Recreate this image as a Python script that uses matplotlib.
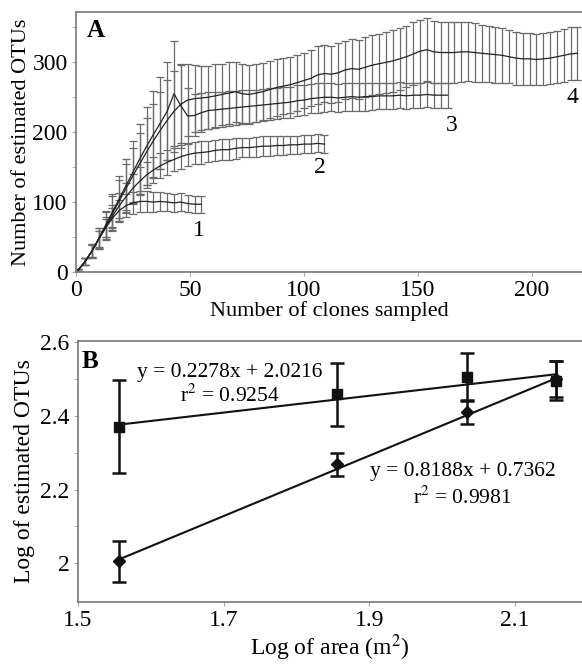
import numpy as np
import matplotlib.pyplot as plt

plt.rcParams['font.family'] = ['Liberation Serif', 'DejaVu Serif']
plt.rcParams['mathtext.fontset'] = 'stix'

# ---- panel A: rarefaction curves (sampled every 3 clones, starting at 1) ----
curve1 = [3, 15, 30, 47, 63, 77, 88, 95, 99, 101, 101, 100, 101, 100, 99, 100, 98, 97, 97]
err1 = [1, 5, 9, 11, 13, 14, 15, 16, 16, 15, 15, 14, 14, 13, 13, 13, 12, 12, 12]

curve2 = [3, 15, 30, 47, 64, 80, 95, 108, 120, 130, 139, 146, 152, 157, 161, 165, 168, 170, 171,
          172, 174, 175, 175, 177, 178, 178, 179, 180, 180, 181, 181, 182, 182, 183, 183, 184, 183]
err2 = [1, 5, 9, 12, 14, 16, 18, 19, 20, 20, 19, 19, 18, 18, 17, 17, 16, 16, 16,
        15, 15, 15, 15, 15, 14, 14, 14, 14, 14, 14, 14, 13, 13, 13, 13, 13, 13]

curve3 = [3, 15, 30, 48, 67, 86, 105, 124, 143, 162, 180, 197, 213, 230, 255, 238, 223, 224, 228,
          231, 232, 233, 234, 235, 236, 237, 238, 239, 240, 241, 242, 243, 245, 246, 248, 249, 250,
          250, 249, 250, 251, 250, 251, 251, 252, 252, 252, 253, 252, 253, 253, 254, 253, 253, 253]
err3 = [1, 5, 10, 15, 20, 26, 32, 38, 44, 50, 56, 62, 66, 70, 75, 60, 40, 30, 28,
        27, 26, 25, 25, 24, 24, 24, 23, 23, 23, 22, 22, 22, 22, 21, 21, 21, 21,
        20, 20, 20, 20, 20, 20, 19, 19, 19, 19, 19, 19, 18, 18, 18, 18, 18, 18]

curve4 = [3, 15, 30, 48, 66, 84, 102, 120, 138, 155, 172, 188, 203, 217, 230, 240, 246, 248, 249,
          250, 252, 254, 256, 258, 255, 254, 256, 258, 261, 264, 266, 268, 271, 274, 277, 282, 284,
          283, 285, 289, 291, 290, 293, 296, 298, 300, 302, 305, 308, 312, 316, 318, 315, 314, 314,
          314, 315, 315, 314, 313, 312, 311, 310, 308, 306, 305, 305, 304, 305, 306, 308, 310, 312, 313]
err4 = [1, 5, 10, 15, 20, 25, 30, 35, 40, 44, 48, 52, 55, 57, 58, 56, 52, 48, 46,
        45, 45, 44, 44, 43, 42, 42, 42, 41, 41, 41, 40, 40, 40, 40, 40, 41, 41,
        41, 42, 42, 42, 42, 43, 43, 43, 44, 44, 44, 44, 45, 45, 45, 44, 44, 43,
        43, 43, 42, 42, 41, 40, 40, 39, 38, 38, 37, 37, 37, 37, 37, 37, 38, 38, 38]

curve_labels = ['1', '2', '3', '4']
label_pos = [(54, 60), (107, 149), (165, 210), (218, 250)]

# ---- panel B: log area vs log OTUs ----
log_area = [1.556, 1.856, 2.034, 2.156]
sq_y = [2.371, 2.458, 2.505, 2.495]
sq_err = [0.125, 0.086, 0.065, 0.053]
di_y = [2.005, 2.268, 2.410, 2.500]
di_err = [0.056, 0.030, 0.032, 0.050]
fit_sq = (0.2278, 2.0216)
fit_di = (0.8188, 0.7362)

fig = plt.figure(figsize=(5.82, 6.66), dpi=100)
axA = fig.add_axes([76/582, 1 - 272/666, 1 - 76/582, 260/666])
axB = fig.add_axes([78/582, 1 - 602/666, 1 - 78/582, 261/666])

spine_col = '#777777'
for ax in (axA, axB):
    ax.spines['right'].set_visible(False)
    for s in ('left', 'top', 'bottom'):
        ax.spines[s].set_color(spine_col)
        ax.spines[s].set_linewidth(1.2)
    ax.tick_params(which='both', color='#aaaaaa', length=3, labelsize=17, pad=3)

for vals, errs in [(curve1, err1), (curve2, err2), (curve3, err3), (curve4, err4)]:
    x = 1 + 3 * np.arange(len(vals))
    axA.errorbar(x, vals, yerr=errs, color='#222222', lw=0.9, ecolor='#6a6a6a',
                 elinewidth=0.9, capsize=2.8, capthick=0.9)

for lab, (lx, ly) in zip(curve_labels, label_pos):
    axA.text(lx, ly, lab, fontsize=17, ha='center', va='center')

axA.set_xlim(0, 222)
axA.set_ylim(0, 372)
axA.set_xticks([0, 50, 100, 150, 200])
axA.set_yticks([0, 100, 200, 300])
axA.set_yticks([50, 150, 250, 350], minor=True)
axA.set_xlabel('Number of clones sampled', fontsize=16, labelpad=0)
axA.set_ylabel('Number of estimated OTUs', fontsize=16, labelpad=1)
axA.text(0.022, 0.93, 'A', transform=axA.transAxes, fontsize=18, fontweight='bold',
         ha='left', va='center')

# panel B
xs = np.array([log_area[0], log_area[-1]])
axB.plot(xs, fit_sq[0] * xs + fit_sq[1], color='#111111', lw=1.5)
axB.plot(xs, fit_di[0] * xs + fit_di[1], color='#111111', lw=1.5)
axB.errorbar(log_area, di_y, yerr=di_err, fmt='D', color='#111111', ms=6,
             elinewidth=1.8, capsize=5, capthick=1.8)
axB.errorbar(log_area, sq_y, yerr=sq_err, fmt='s', color='#111111', ms=7.5,
             elinewidth=1.8, capsize=5, capthick=1.8)

axB.set_xlim(1.5, 2.192)
axB.set_ylim(1.895, 2.603)
axB.set_xticks([1.5, 1.7, 1.9, 2.1])
axB.set_xticklabels(['1.5', '1.7', '1.9', '2.1'])
axB.set_yticks([2.0, 2.2, 2.4, 2.6])
axB.set_yticklabels(['2', '2.2', '2.4', '2.6'])
axB.set_yticks([2.1, 2.3, 2.5], minor=True)
axB.set_xlabel('Log of area (m$^2$)', fontsize=17, labelpad=1)
axB.set_ylabel('Log of estimated OTUs', fontsize=17, labelpad=4)
axB.text(0.008, 0.92, 'B', transform=axB.transAxes, fontsize=18, fontweight='bold',
         ha='left', va='center')

axB.text(1.708, 2.518, 'y = %.4fx + %.4f' % fit_sq, fontsize=15.5, ha='center', va='center')
axB.text(1.708, 2.455, 'r$^2$ = 0.9254', fontsize=15.5, ha='center', va='center')
axB.text(2.028, 2.25, 'y = %.4fx + %.4f' % fit_di, fontsize=15.5, ha='center', va='center')
axB.text(2.028, 2.178, 'r$^2$ = 0.9981', fontsize=15.5, ha='center', va='center')

fig.savefig('out.png', dpi=100)
